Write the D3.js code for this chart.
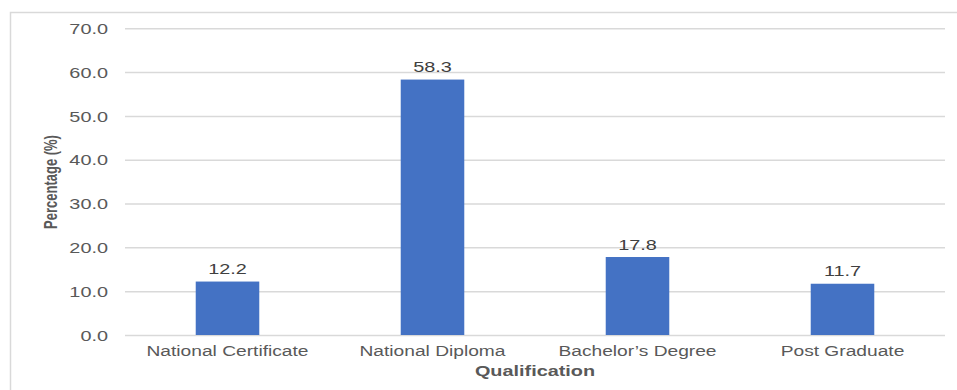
<!DOCTYPE html>
<html>
<head>
<meta charset="utf-8">
<script src="https://cdn.jsdelivr.net/npm/d3@7"></script>
<style>
  html, body { margin: 0; padding: 0; background: #fff; }
  svg { display: block; }
  text { font-family: "Liberation Sans", Arial, sans-serif; }
</style>
</head>
<body>
<svg id="chart" width="957" height="390"></svg>
<script>
// Share of respondents by highest qualification
const categories = ["National Certificate", "National Diploma", "Bachelor\u2019s Degree", "Post Graduate"];
const percentages = [12.2, 58.3, 17.8, 11.7];
const yTicks = [0, 10, 20, 30, 40, 50, 60, 70];
const yTitle = "Percentage (%)";
const xTitle = "Qualification";

const W = 957, H = 390;
const plot = { left: 125, right: 945, top: 28.3, bottom: 335 };
const stretch = 1.37; // wide letterforms used throughout the chart

const svg = d3.select("#chart");

// outer frame (left and top edges)
svg.append("path")
  .attr("d", `M10.5,${H} V12.5 H${W}`)
  .attr("fill", "none")
  .attr("stroke", "#d9d9d9")
  .attr("stroke-width", 1.5);

const x = d3.scaleBand()
  .domain(categories)
  .range([plot.left, plot.right])
  .paddingInner(0.69)
  .paddingOuter(0.345);

const y = d3.scaleLinear()
  .domain([0, 70])
  .range([plot.bottom, plot.top]);

// gridlines and value axis labels
const yAxis = svg.append("g")
  .attr("transform", `translate(${plot.left},0)`)
  .call(d3.axisLeft(y)
    .tickValues(yTicks)
    .tickSize(-(plot.right - plot.left))
    .tickPadding(0)
    .tickFormat(d3.format(".1f")));
yAxis.select(".domain").remove();
yAxis.selectAll(".tick line")
  .attr("stroke", "#d9d9d9")
  .attr("stroke-width", 1.5);
yAxis.selectAll(".tick text")
  .attr("x", null)
  .attr("dy", "0.36em")
  .attr("transform", `translate(-17,0) scale(${stretch},1)`)
  .attr("text-anchor", "end")
  .attr("fill", "#595959")
  .style("font-size", "14.5px");

// bars
svg.append("g")
  .selectAll("rect")
  .data(percentages)
  .join("rect")
  .attr("x", (d, i) => x(categories[i]))
  .attr("y", d => y(d))
  .attr("width", x.bandwidth())
  .attr("height", d => y(0) - y(d))
  .attr("fill", "#4472c4");

// value labels above bars
svg.append("g")
  .selectAll("text")
  .data(percentages)
  .join("text")
  .attr("transform", (d, i) =>
    `translate(${x(categories[i]) + x.bandwidth() / 2},${y(d) - 7.5}) scale(${stretch},1)`)
  .attr("text-anchor", "middle")
  .attr("fill", "#404040")
  .style("font-size", "14.5px")
  .text(d => d.toFixed(1));

// category labels
svg.append("g")
  .selectAll("text")
  .data(categories)
  .join("text")
  .attr("transform", d => `translate(${x(d) + x.bandwidth() / 2},356) scale(${stretch},1)`)
  .attr("text-anchor", "middle")
  .attr("fill", "#595959")
  .style("font-size", "14px")
  .text(d => d);

// axis titles
svg.append("text")
  .attr("transform", `translate(535,376) scale(${stretch},1)`)
  .attr("text-anchor", "middle")
  .attr("fill", "#595959")
  .style("font-size", "14.5px")
  .style("font-weight", "bold")
  .text(xTitle);

svg.append("text")
  .attr("transform", `translate(57,182) scale(${stretch},1) rotate(-90)`)
  .attr("text-anchor", "middle")
  .attr("fill", "#595959")
  .style("font-size", "13px")
  .style("font-weight", "bold")
  .text(yTitle);
</script>
</body>
</html>
